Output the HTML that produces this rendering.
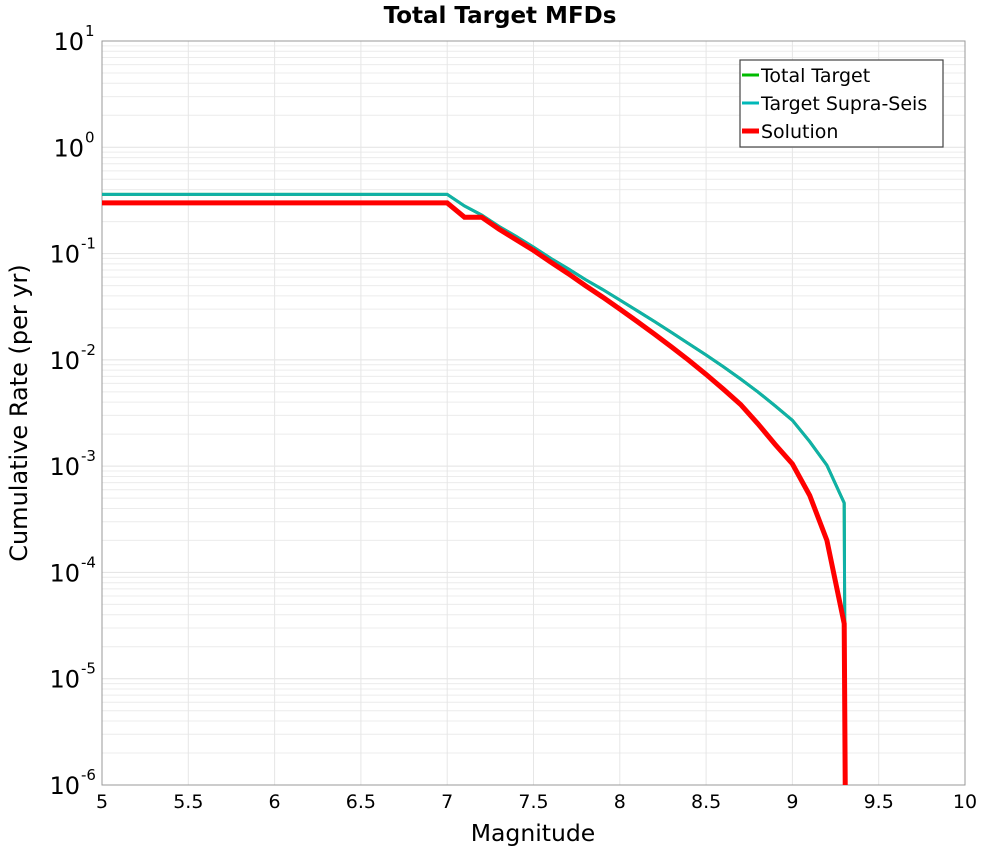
<!DOCTYPE html>
<html><head><meta charset="utf-8"><style>
body{margin:0;background:#fff;font-family:"DejaVu Sans","Liberation Sans",sans-serif}
svg text{font-family:"DejaVu Sans","Liberation Sans",sans-serif}
</style></head><body>
<svg id="chart" width="1000" height="850" xmlns="http://www.w3.org/2000/svg">
<defs><clipPath id="clip"><rect x="102" y="41" width="863" height="744"/></clipPath></defs>
<g id="grid"></g>
<rect x="102" y="41" width="863" height="744" fill="none" stroke="#999" stroke-width="1"/>
<g id="ticks"></g>
<g id="series" clip-path="url(#clip)"></g>
<text x="500" y="23" text-anchor="middle" font-weight="bold" font-size="23">Total Target MFDs</text>
<text x="533" y="841" text-anchor="middle" font-size="23.5">Magnitude</text>
<text transform="translate(27,413) rotate(-90)" text-anchor="middle" font-size="24">Cumulative Rate (per yr)</text>
<g>
<rect x="740" y="60" width="203" height="87" fill="#fff" stroke="#444" stroke-width="1.2"/>
<line x1="742" y1="75" x2="759" y2="75" stroke="#00bb00" stroke-width="3"/>
<text x="761" y="82" font-size="19">Total Target</text>
<line x1="742" y1="103" x2="759" y2="103" stroke="#00b8b8" stroke-width="3"/>
<text x="761" y="110" font-size="19">Target Supra-Seis</text>
<line x1="742" y1="131" x2="759" y2="131" stroke="#ff0000" stroke-width="5"/>
<text x="761" y="138" font-size="19">Solution</text>
</g>
</svg>
<script>
const mags = [5.0,7.0,7.1,7.2,7.3,7.4,7.5,7.6,7.7,7.8,7.9,8.0,8.1,8.2,8.3,8.4,8.5,8.6,8.7,8.8,8.9,9.0,9.1,9.2,9.3,9.31];
const totalTarget = [0.36,0.36,0.28,0.23,0.18,0.145,0.115,0.09,0.072,0.057,0.046,0.0366,0.029,0.023,0.0181,0.0142,0.0111,0.0086,0.0066,0.0050,0.0037,0.0027,0.0017,0.00102,0.00045,1e-7];
const supraSeis = [0.36,0.36,0.28,0.23,0.18,0.145,0.115,0.09,0.072,0.057,0.046,0.0366,0.029,0.023,0.0181,0.0142,0.0111,0.0086,0.0066,0.0050,0.0037,0.0027,0.0017,0.00102,0.00045,1e-7];
const solution = [0.30,0.30,0.22,0.22,0.17,0.135,0.107,0.083,0.065,0.05,0.039,0.030,0.023,0.0175,0.0132,0.0099,0.0073,0.0053,0.0038,0.0025,0.0016,0.00105,0.00053,0.0002,3.3e-5,1e-7];
const xTicks = [5,5.5,6,6.5,7,7.5,8,8.5,9,9.5,10];
const yExps = [1,0,-1,-2,-3,-4,-5,-6];

const NS="http://www.w3.org/2000/svg";
const X0=102,X1=965,Y0=41,Y1=785;
function xs(m){return X0+(m-5)/(10-5)*(X1-X0);}
function ys(v){return Y0+(1-Math.log10(v))/7*(Y1-Y0);}
function mk(tag,attrs,parent){const e=document.createElementNS(NS,tag);for(const k in attrs)e.setAttribute(k,attrs[k]);parent.appendChild(e);return e;}
const grid=document.getElementById('grid'),ticks=document.getElementById('ticks'),series=document.getElementById('series');
for(let e=-6;e<1;e++){for(let k=2;k<=9;k++){const y=ys(k*Math.pow(10,e));
 const l=mk('line',{x1:X0,x2:X1,y1:y,y2:y,stroke:'#ececec','stroke-width':1},grid);
 
 }}
yExps.forEach(e=>{const y=ys(Math.pow(10,e));
 const l=mk('line',{x1:X0,x2:X1,y1:y,y2:y,stroke:'#e2e2e2','stroke-width':1},grid);
 
 
 const t=mk('text',{x:X0-18,y:y+9,'text-anchor':'end','font-size':24},ticks);
 
 
 t.textContent='10';
 const s=mk('text',{x:X0-17,y:y-5,'text-anchor':'start','font-size':15},ticks);
 
 
 s.textContent=String(e);
 if(e<0){t.setAttribute('x',X0-22);s.setAttribute('x',X0-21);}
});
xTicks.forEach(m=>{const x=xs(m);
 const l=mk('line',{x1:x,x2:x,y1:Y0,y2:Y1,stroke:'#e6e6e6','stroke-width':1},grid);
 
 
 const t=mk('text',{x:x,y:808,'text-anchor':'middle','font-size':19},ticks);
 
 
 t.textContent=String(m);
});
function pts(vals){return mags.map((m,i)=>xs(m).toFixed(1)+','+ys(vals[i]).toFixed(1)).join(' ');}
const a=mk('polyline',{points:pts(totalTarget),fill:'none',stroke:'#00bb00','stroke-width':3},series);


const b=mk('polyline',{points:pts(supraSeis),fill:'none',stroke:'#10b0a8','stroke-width':3},series);


const c=mk('polyline',{points:pts(solution),fill:'none',stroke:'#ff0000','stroke-width':5},series);


</script>
</body></html>
